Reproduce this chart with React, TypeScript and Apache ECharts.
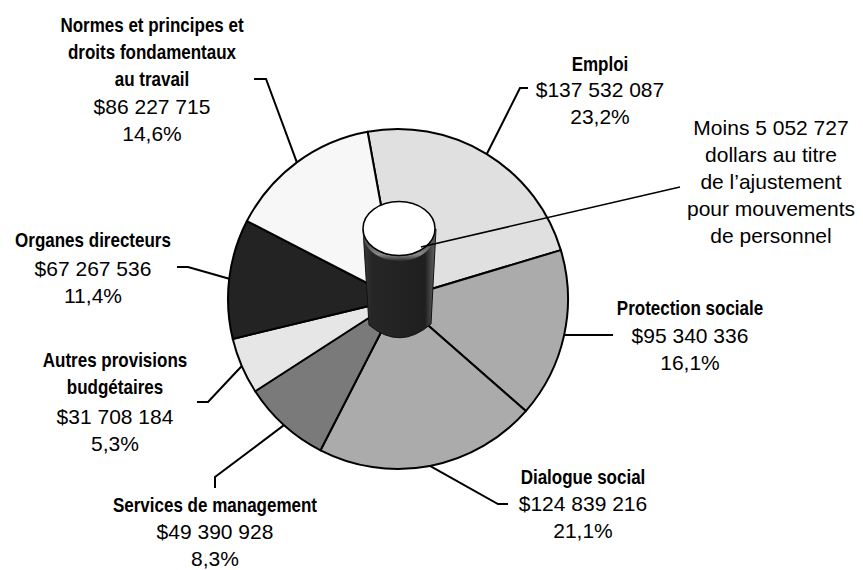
import React, { useEffect, useRef } from 'react';
import * as echarts from 'echarts';

// ---- data ----
const categories = [
  'Emploi',
  'Protection sociale',
  'Dialogue social',
  'Services de management',
  'Autres provisions\nbudgétaires',
  'Organes directeurs',
  'Normes et principes et\ndroits fondamentaux\nau travail',
];
const amounts = [137532087, 95340336, 124839216, 49390928, 31708184, 67267536, 86227715];
const percentLabels = ['23,2%', '16,1%', '21,1%', '8,3%', '5,3%', '11,4%', '14,6%'];
const sliceColors = ['#e0e0e0', '#ababab', '#ababab', '#7a7a7a', '#e6e6e6', '#232323', '#f7f7f7'];
const adjustmentNote = ['Moins 5 052 727', 'dollars au titre', 'de l\u2019ajustement', 'pour mouvements', 'de personnel'];

// ---- layout ----
const CX = 398;
const CY = 299;
const R = 170;
const START = 100.3;
const LH = 27;
// x: label centre, nameY: centre of first name line, numY: centre of the two numeric lines
const labelAnchors = [
  { x: 600, nameY: 64, numY: 103, p1: [520, 88], p2: [528, 88] },
  { x: 690, nameY: 308, numY: 348.5, p1: [600, 335], p2: [613, 335] },
  { x: 583, nameY: 477, numY: 516.5, p1: [498, 504], p2: [508, 504] },
  { x: 215, nameY: 505, numY: 545, p1: [215, 477], p2: [215, 488] },
  { x: 115, nameY: 360, numY: 430, p1: [208, 402], p2: [197, 402] },
  { x: 93, nameY: 240, numY: 281.5, p1: [188, 267], p2: [177, 267] },
  { x: 152, nameY: 25, numY: 120, p1: [266, 79], p2: [254, 79] },
];

const REGULAR = "'Liberation Sans', Arial, sans-serif";

function fmtMoney(v: number) {
  return '$' + String(v).replace(/\B(?=(\d{3})+(?!\d))/g, ' ');
}

let registered = false;
function registerShapes() {
  if (registered) return;
  registered = true;
  echarts.graphic.registerShape(
    'cylBody',
    echarts.graphic.extendPath('M363 229 L369 325 Q400 351 431 324 L436 229 Z', {}) as any
  );
}

export default function App() {
  const ref = useRef<HTMLDivElement>(null);
  useEffect(() => {
    if (!ref.current) return;
    registerShapes();
    const chart = echarts.init(ref.current, undefined, { renderer: 'svg' });
    const total = amounts.reduce((a, b) => a + b, 0);
    const cum: number[] = [];
    let acc = 0;
    amounts.forEach((v) => {
      cum.push(acc + v / 2);
      acc += v;
    });
    const rimPoint = (i: number) => {
      const th = ((90 - START) + (360 * cum[i]) / total) * Math.PI / 180;
      return [CX + R * Math.sin(th), CY - R * Math.cos(th)];
    };

    const nameTexts = categories.map((c, i) => {
      const a = labelAnchors[i];
      return {
        type: 'text',
        z: 110,
        x: a.x,
        y: a.nameY - LH / 2,
        scaleX: 0.81,
        style: {
          text: c,
          fontFamily: REGULAR,
          fontWeight: 'bold',
          fontSize: 21,
          lineHeight: LH,
          fill: '#000',
          align: 'center',
          verticalAlign: 'top',
        },
      };
    });

    chart.setOption({
      animation: false,
      backgroundColor: '#ffffff',
      series: [
        {
          type: 'pie',
          center: [CX, CY],
          radius: R,
          startAngle: START,
          clockwise: true,
          avoidLabelOverlap: false,
          silent: true,
          data: categories.map((c, i) => ({
            name: c,
            value: amounts[i],
            itemStyle: { color: sliceColors[i] },
          })),
          itemStyle: { borderColor: '#000', borderWidth: 2 },
          label: {
            show: true,
            color: '#000',
            align: 'center',
            formatter: (p: any) => {
              const i = p.dataIndex;
              return `{v|${fmtMoney(amounts[i])}}\n{v|${percentLabels[i]}}`;
            },
            rich: {
              v: { fontFamily: REGULAR, fontSize: 21, lineHeight: LH, color: '#000', align: 'center' },
            },
          },
          labelLine: { show: true, smooth: false, lineStyle: { color: '#000', width: 2 } },
          labelLayout: (params: any) => {
            const i = params.dataIndex;
            const a = labelAnchors[i];
            return {
              x: a.x,
              y: a.numY,
              align: 'center',
              verticalAlign: 'middle',
              labelLinePoints: [rimPoint(i), a.p1, a.p2],
            };
          },
        },
      ],
      graphic: [
        ...nameTexts,
        {
          type: 'cylBody',
          x: 0,
          y: 0,
          z: 100,
          style: {
            fill: {
              type: 'linear', x: 0, y: 0, x2: 1, y2: 0,
              colorStops: [
                { offset: 0, color: '#3a3a3a' },
                { offset: 0.12, color: '#262626' },
                { offset: 0.85, color: '#1f1f1f' },
                { offset: 1, color: '#6a6a6a' },
              ],
            },
            stroke: '#111',
            lineWidth: 1,
          },
        },
        {
          type: 'ellipse',
          z: 101,
          shape: { cx: 399, cy: 234, rx: 36, ry: 27 },
          style: {
            fill: {
              type: 'linear', x: 0, y: 0, x2: 0, y2: 1,
              colorStops: [
                { offset: 0, color: '#222' },
                { offset: 0.7, color: '#555' },
                { offset: 0.88, color: '#8a8a8a' },
                { offset: 1, color: '#2a2a2a' },
              ],
            },
          },
        },
        {
          type: 'ellipse',
          z: 102,
          shape: { cx: 399, cy: 228.5, rx: 36, ry: 27 },
          style: { fill: '#ffffff', stroke: '#000', lineWidth: 1.5 },
        },
        {
          type: 'line',
          z: 103,
          shape: { x1: 421, y1: 247, x2: 680, y2: 187 },
          style: { stroke: '#000', lineWidth: 1.5 },
        },
        {
          type: 'text',
          z: 103,
          x: 771,
          y: 181,
          style: {
            text: adjustmentNote.join('\n'),
            fontFamily: REGULAR,
            fontSize: 21,
            lineHeight: LH,
            fill: '#000',
            align: 'center',
            verticalAlign: 'middle',
          },
        },
      ],
    });
    return () => chart.dispose();
  }, []);
  return <div ref={ref} style={{ position: 'fixed', left: 0, top: 0, width: 863, height: 570, background: '#fff' }} />;
}
